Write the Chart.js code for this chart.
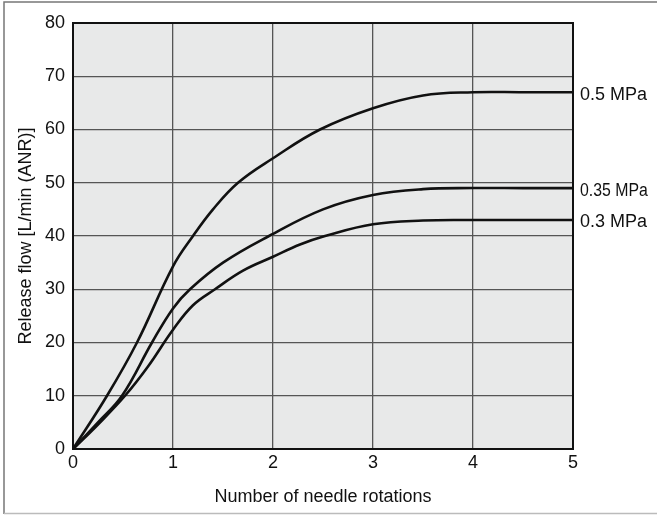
<!DOCTYPE html>
<html>
<head>
<meta charset="utf-8">
<script src="https://cdn.jsdelivr.net/npm/chart.js@4/dist/chart.umd.min.js"></script>
<style>
html,body{margin:0;padding:0;background:#fff;}
#wrap{width:657px;height:515px;position:relative;}
</style>
</head>
<body>
<div id="wrap"><canvas id="c" width="657" height="515"></canvas></div>
<script>
const seriesLabels = ['0.5 MPa', '0.35 MPa', '0.3 MPa'];
const x05  = [0, 0.34, 0.64, 1.0, 1.2, 1.4, 1.65, 2.0, 2.47, 3.0, 3.5, 4.0, 4.5, 5.0];
const y05  = [0, 10, 20, 34.3, 40, 45, 50, 54.6, 60, 64, 66.4, 67, 67, 67];
const x035 = [0, 0.25, 0.49, 0.79, 1.0, 1.17, 1.5, 1.96, 2.5, 3.0, 3.5, 4.0, 4.5, 5.0];
const y035 = [0, 5, 10, 20, 26.4, 30, 35, 40, 45, 47.7, 48.8, 49, 49, 49];
const x03  = [0, 0.25, 0.52, 0.75, 1.0, 1.2, 1.42, 1.7, 2.0, 2.27, 2.52, 3.0, 3.5, 4.0, 4.5, 5.0];
const y03  = [0, 4.6, 10, 15.5, 22.4, 27, 30, 33.5, 36.1, 38.4, 40, 42.2, 42.9, 43, 43, 43];
const xTicks = [0, 1, 2, 3, 4, 5];
const yTicks = [0, 10, 20, 30, 40, 50, 60, 70, 80];

function pts(xs, ys){ return xs.map((x,i)=>({x:x, y:ys[i]})); }

const FONT = '"Liberation Sans", Arial, Helvetica, sans-serif';

const decor = {
  id:'decor',
  beforeDraw(chart){
    const {ctx, chartArea:a} = chart;
    ctx.save();
    ctx.fillStyle='#fff';
    ctx.fillRect(0,0,chart.width,chart.height);
    ctx.fillStyle='#e8e9e9';
    ctx.fillRect(a.left,a.top,a.right-a.left,a.bottom-a.top);
    ctx.strokeStyle='#777';
    ctx.lineWidth=1.5;
    ctx.beginPath();
    ctx.moveTo(4, 514); ctx.lineTo(4, 2); ctx.lineTo(657, 2);
    ctx.stroke();
    ctx.strokeStyle='#bbb';
    ctx.beginPath();
    ctx.moveTo(4, 513.5); ctx.lineTo(657, 513.5);
    ctx.stroke();
    ctx.restore();
  },
  afterDraw(chart){
    const {ctx, chartArea:a} = chart;
    ctx.save();
    ctx.strokeStyle='#111';
    ctx.lineWidth=2;
    ctx.strokeRect(a.left,a.top,a.right-a.left,a.bottom-a.top);
    ctx.fillStyle='#111';
    ctx.textBaseline='middle';
    ctx.textAlign='left';
    ctx.font='18px '+FONT;
    const ys = chart.scales.y;
    chart.data.datasets.forEach((ds,i)=>{
      const last = ds.data[ds.data.length-1];
      const py = ys.getPixelForValue(last.y)+2.5;
      const px = a.right+7;
      ctx.save();
      ctx.translate(px, py);
      if (seriesLabels[i]==='0.35 MPa') ctx.scale(0.88,1);
      ctx.fillText(seriesLabels[i],0,0);
      ctx.restore();
    });
    ctx.restore();
  }
};

new Chart(document.getElementById('c'), {
  type:'line',
  data:{
    datasets:[
      {label:seriesLabels[0], data:pts(x05,y05)},
      {label:seriesLabels[1], data:pts(x035,y035)},
      {label:seriesLabels[2], data:pts(x03,y03)}
    ].map(d=>Object.assign(d,{borderColor:'#111', borderWidth:2.6, pointRadius:0, fill:false, tension:0.4}))
  },
  options:{
    responsive:false,
    animation:false,
    events:[],
    layout:{padding:{left:0, top:23, right:84, bottom:0}},
    plugins:{legend:{display:false}, tooltip:{enabled:false}},
    scales:{
      x:{
        type:'linear', min:0, max:5,
        afterBuildTicks(s){ s.ticks = xTicks.map(v=>({value:v})); },
        afterFit(s){ s.height = 66; },
        grid:{color:'#555', lineWidth:1.3, drawTicks:false},
        border:{display:false},
        ticks:{color:'#111', font:{family:FONT, size:18}, padding:3, maxRotation:0},
        title:{display:true, text:'Number of needle rotations', color:'#111', font:{family:FONT, size:18}, padding:{top:0, bottom:7}}
      },
      y:{
        type:'linear', min:0, max:80,
        afterBuildTicks(s){ s.ticks = yTicks.map(v=>({value:v})); },
        afterFit(s){ s.width = 73; },
        grid:{color:'#555', lineWidth:1.3, drawTicks:false},
        border:{display:false},
        ticks:{color:'#111', font:{family:FONT, size:18}, padding:8},
        title:{display:true, text:'Release flow [L/min (ANR)]', color:'#111', font:{family:FONT, size:18}, padding:{top:15, bottom:0}}
      }
    }
  },
  plugins:[decor]
});
</script>
</body>
</html>
